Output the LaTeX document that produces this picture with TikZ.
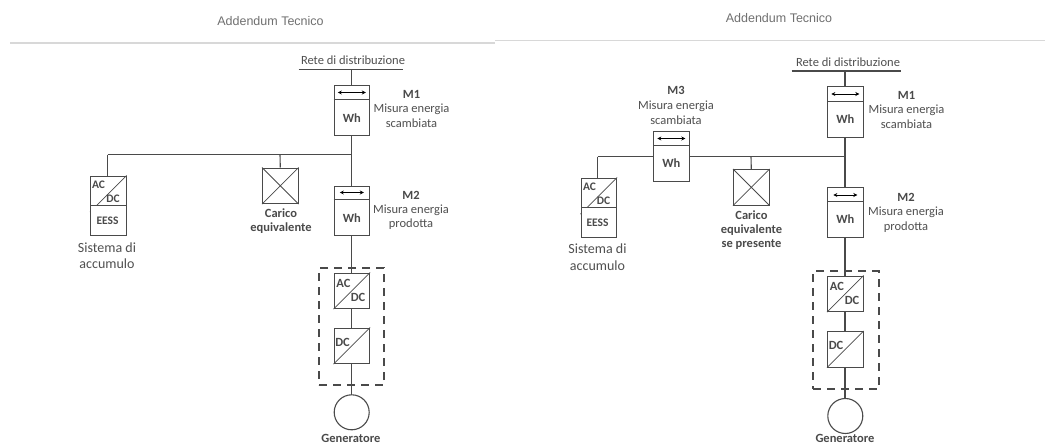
\documentclass[tikz,border=0pt]{standalone}
\usepackage{fontspec}
\setmainfont{Carlito}
\newfontfamily\headfont{Liberation Sans}
\usetikzlibrary{arrows.meta}
\definecolor{ln}{HTML}{4A4A4A}
\definecolor{txt}{HTML}{505050}
\definecolor{hd}{HTML}{707070}
\definecolor{rulec}{HTML}{D8D8D8}
\tikzset{
  wire/.style={draw=ln,line width=1.1pt},
  boxn/.style={draw=ln,line width=1.1pt,fill=white,rectangle,inner sep=0pt,anchor=north west},
  thin part/.style={draw=ln,line width=0.8pt},
  lab/.style={text=txt,font=\fontsize{12.5}{12.5}\selectfont,inner sep=0pt,anchor=center},
  biglab/.style={text=txt,font=\fontsize{14}{14}\selectfont,inner sep=0pt,anchor=center},
  blab/.style={text=ln,font=\fontsize{12.5}{12.5}\selectfont\bfseries,inner sep=0pt,anchor=center},
  slab/.style={text=ln,font=\fontsize{11.5}{11.5}\selectfont\bfseries,inner sep=0pt,anchor=center},
  head/.style={text=hd,font=\fontsize{12.5}{12.5}\selectfont\headfont,inner sep=0pt,anchor=center},
  hrule/.style={draw=rulec,line width=1.6pt},
  dashbox/.style={draw=ln,line width=2pt,dash pattern=on 8pt off 6pt,rectangle,inner sep=0pt,anchor=north west},
  flow/.style={{Stealth[length=4pt,width=4pt]}-{Stealth[length=4pt,width=4pt]},draw=black,line width=0.8pt},
  gen/.style={circle,draw=ln,line width=1.1pt,fill=white,inner sep=0pt,minimum size=35pt,anchor=center}
}
% name, left x, top y, height, divider offset, arrow offset, arrow half-length
\newcommand{\meterbox}[7]{%
  \node[boxn,minimum width=35.5pt,minimum height=#4pt] (#1) at (#2,#3) {};
  \draw[thin part] (#1.north west) ++(0,#5) -- ++(35.5,0);
  \draw[flow] (#1.north) ++(-#7,#6) -- ++(2*#7,0);
  \node[blab] (#1w) at ([yshift=-#5pt/2]#1.center) {Wh};
}
% name, left x, top y
\newcommand{\convbox}[3]{%
  \node[boxn,minimum width=35.5pt,minimum height=35.5pt] (#1) at (#2,#3) {};
  \draw[thin part] (#1.south west) -- (#1.north east);
}
\begin{document}
\begin{tikzpicture}[x=1pt,y=-1pt]
\useasboundingbox[fill=white] (0,0) rectangle (1045,444);
% ---------- headers
\node[head] (hl) at (270.5,21.5) {Addendum Tecnico};
\node[head] (hr) at (779,18.5) {Addendum Tecnico};
\coordinate (hla) at (10,43); \coordinate (hlb) at (495,43);
\coordinate (hra) at (495,40.5); \coordinate (hrb) at (1045,40.5);
\draw[hrule] (hla) -- (hlb);
\draw[hrule] (hra) -- (hrb);
% ---------- LEFT
\coordinate (lra) at (298.5,69.5); \coordinate (lrb) at (403,69.5);
\coordinate (lrc) at (351.5,69.5);
\coordinate (lbusl) at (107.5,154.5); \coordinate (lbusr) at (351.5,154.5);
\coordinate (lbusc) at (280,154.5);
\node[lab] (lrete) at (353,60.5) {Rete di distribuzione};
\draw[wire] (lra) -- (lrb);
\draw[wire] (lrc) -- (351.5,412);
\draw[wire] (lbusl) -- (lbusr);
\meterbox{lmone}{333.5}{85}{50}{14.5}{7.5}{14}
\node[blab] (lmonet) at (411.5,94) {M1};
\node[lab] (lmonea) at (411.5,109.5) {Misura energia};
\node[lab] (lmoneb) at (411.5,123.5) {scambiata};
\convbox{leess}{90}{175.5}
\node[boxn,minimum width=35.5pt,minimum height=30pt] (leessb) at (90,205) {};
\node[slab] (lac) at (98.5,184.5) {AC};
\node[slab] (ldc) at (113,198.5) {DC};
\node[slab] (leesst) at (107.5,220.5) {EESS};
\draw[wire] (lbusl) -- (leess.north -| lbusl);
\node[biglab] (lsa) at (107,248) {Sistema di};
\node[biglab] (lsb) at (107,264) {accumulo};
\node[boxn,minimum width=35.5pt,minimum height=35.5pt] (lload) at (262,167.5) {};
\draw[thin part] (lload.north west) -- (lload.south east) (lload.north east) -- (lload.south west);
\draw[wire] (lbusc) -- (lload.north);
\node[blab] (lca) at (281,213.5) {Carico};
\node[blab] (lcb) at (281,228.5) {equivalente};
\meterbox{lmtwo}{333.5}{185.5}{49.5}{14}{7}{12}
\node[blab] (lmtwot) at (411,195) {M2};
\node[lab] (lmtwoa) at (411,210.5) {Misura energia};
\node[lab] (lmtwob) at (411,224.5) {prodotta};
\node[dashbox,minimum width=65pt,minimum height=117pt] (ldash) at (318,267) {};
\convbox{lconva}{333.5}{272.5}
\node[blab] (lcaa) at (343.5,283) {AC};
\node[blab] (lcab) at (358,297.5) {DC};
\convbox{lconvb}{333.5}{327.5}
\node[blab] (lcbb) at (342.5,342) {DC};
\node[gen] (lgen) at (351.7,412.3) {};
\node[blab] (lgent) at (351,438) {Generatore};
% ---------- RIGHT
\coordinate (rra) at (791.5,71); \coordinate (rrb) at (901,71);
\coordinate (rrc) at (845,71);
\coordinate (rbusl) at (597.5,156.5); \coordinate (rbusr) at (845,156.5);
\coordinate (rbusc) at (751,156.5);
\node[lab] (rrete) at (848,62) {Rete di distribuzione};
\draw[wire] (rra) -- (rrb);
\draw[wire] (rrc) -- (845,416);
\draw[wire] (rbusl) -- (rbusr);
\meterbox{rmone}{827}{86}{50.5}{15.5}{8}{14}
\node[blab] (rmonet) at (906.5,95.5) {M1};
\node[lab] (rmonea) at (906.5,110.5) {Misura energia};
\node[lab] (rmoneb) at (906.5,124.5) {scambiata};
\meterbox{rmthree}{653}{130.5}{50.5}{14.5}{8}{14}
\node[blab] (rmthreet) at (676,90) {M3};
\node[lab] (rmthreea) at (676,106) {Misura energia};
\node[lab] (rmthreeb) at (676,120) {scambiata};
\convbox{reess}{580.5}{177.5}
\node[boxn,minimum width=35.5pt,minimum height=30pt] (reessb) at (580.5,207) {};
\node[slab] (rac) at (589.5,186.5) {AC};
\node[slab] (rdc) at (603.5,200.5) {DC};
\node[slab] (reesst) at (597.5,223) {EESS};
\draw[wire] (rbusl) -- (reess.north -| rbusl);
\node[biglab] (rsa) at (597.5,249) {Sistema di};
\node[biglab] (rsb) at (597.5,266) {accumulo};
\node[boxn,minimum width=35.5pt,minimum height=35.5pt] (rload) at (733,169) {};
\draw[thin part] (rload.north west) -- (rload.south east) (rload.north east) -- (rload.south west);
\draw[wire] (rbusc) -- (rload.north);
\node[blab] (rca) at (751.5,215.5) {Carico};
\node[blab] (rcb) at (751.5,230.5) {equivalente};
\node[blab] (rcc) at (751.5,245) {se presente};
\meterbox{rmtwo}{827}{187}{49.5}{14.5}{8}{12}
\node[blab] (rmtwot) at (906,197.5) {M2};
\node[lab] (rmtwoa) at (906,212.5) {Misura energia};
\node[lab] (rmtwob) at (906,227) {prodotta};
\node[dashbox,minimum width=65.5pt,minimum height=118pt] (rdash) at (812,270) {};
\convbox{rconva}{827}{275.5}
\node[blab] (rcaa) at (837,286) {AC};
\node[blab] (rcab) at (852,300.5) {DC};
\convbox{rconvb}{827}{331}
\node[blab] (rcbb) at (836,345) {DC};
\node[gen] (rgen) at (845.3,416) {};
\node[blab] (rgent) at (845,438.5) {Generatore};
\end{tikzpicture}
\end{document}
